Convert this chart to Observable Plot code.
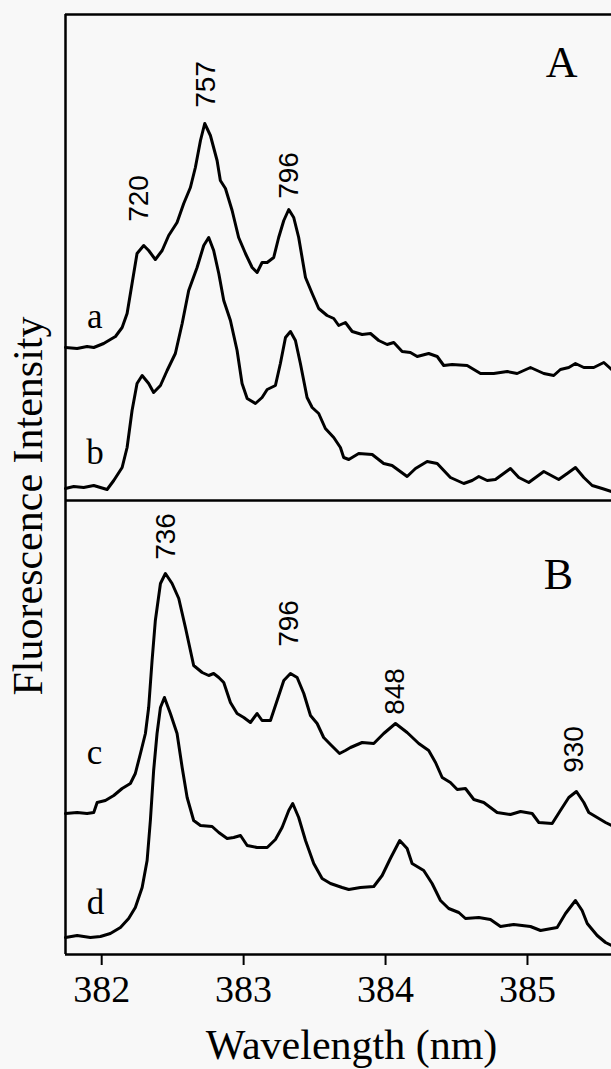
<!DOCTYPE html>
<html>
<head>
<meta charset="utf-8">
<script src="https://cdn.jsdelivr.net/npm/d3@7"></script>
<script src="https://cdn.jsdelivr.net/npm/@observablehq/plot@0.6"></script>
<style>
  html, body { margin: 0; padding: 0; background: #f8f8f8; }
  #chart { position: relative; width: 611px; height: 1069px; overflow: hidden; }
  #chart svg { position: absolute; left: 0; }
  #ylabel {
    position: absolute; left: 28px; top: 506px;
    transform: translate(-50%, -50%) rotate(-90deg);
    font-family: "Liberation Serif", "Times New Roman", serif;
    font-size: 42px; line-height: 1; white-space: nowrap; color: #000;
  }
</style>
</head>
<body>
<div id="chart"><div id="ylabel">Fluorescence Intensity</div></div>
<script>
// ---- data (wavelength in nm, intensity in arbitrary units) ----
const xDomain = [381.745, 385.592];
const xTicks = [382, 383, 384, 385];
const yMaxA = 486;
const yMaxB = 454;

const curveA = [[381.745,153],[381.827,152],[381.897,154],[381.944,153],[382.014,157],[382.061,161],[382.097,164],[382.144,173],[382.179,187],[382.214,217],[382.249,247],[382.296,255],[382.331,250],[382.378,241],[382.426,250],[382.472,265],[382.531,278],[382.578,297],[382.625,313],[382.660,333],[382.696,360],[382.726,377],[382.766,365],[382.813,340],[382.836,320],[382.872,312],[382.919,290],[382.965,263],[383.013,247],[383.060,233],[383.095,228],[383.130,238],[383.166,238],[383.212,243],[383.247,263],[383.283,280],[383.318,291],[383.353,283],[383.388,263],[383.436,223],[383.483,207],[383.529,192],[383.588,185],[383.635,182],[383.670,175],[383.717,178],[383.765,169],[383.835,166],[383.894,167],[383.952,160],[384.011,156],[384.058,158],[384.117,149],[384.175,148],[384.223,144],[384.304,147],[384.364,144],[384.410,135],[384.469,136],[384.575,135],[384.669,127],[384.762,127],[384.857,129],[384.927,127],[385.021,133],[385.115,127],[385.185,125],[385.232,131],[385.291,133],[385.338,137],[385.397,133],[385.467,133],[385.538,138],[385.592,131]];

const curveB = [[381.745,12],[381.803,14],[381.873,13],[381.944,15],[382.038,11],[382.085,20],[382.144,33],[382.179,53],[382.214,90],[382.249,117],[382.285,125],[382.331,117],[382.366,108],[382.414,115],[382.461,130],[382.519,147],[382.567,177],[382.613,210],[382.672,233],[382.719,255],[382.754,263],[382.789,250],[382.825,227],[382.860,200],[382.907,180],[382.954,150],[382.989,117],[383.025,102],[383.083,97],[383.130,103],[383.166,111],[383.224,115],[383.259,137],[383.295,163],[383.330,169],[383.365,160],[383.400,137],[383.447,103],[383.483,93],[383.529,87],[383.576,72],[383.635,63],[383.682,53],[383.705,43],[383.741,41],[383.811,47],[383.906,46],[383.987,37],[384.046,35],[384.152,24],[384.211,32],[384.293,39],[384.364,37],[384.457,23],[384.551,17],[384.610,20],[384.657,24],[384.716,20],[384.774,21],[384.880,32],[384.939,23],[385.009,18],[385.115,29],[385.220,21],[385.280,27],[385.338,33],[385.397,23],[385.456,15],[385.526,12],[385.592,9]];

const curveC = [[381.745,141],[381.827,142],[381.897,141],[381.944,142],[381.968,152],[382.026,154],[382.085,159],[382.144,166],[382.202,171],[382.237,181],[382.273,201],[382.308,221],[382.331,247],[382.355,294],[382.378,334],[382.414,371],[382.449,381],[382.496,371],[382.543,356],[382.590,327],[382.648,289],[382.708,282],[382.754,279],[382.789,281],[382.825,277],[382.860,272],[382.907,252],[382.954,241],[383.001,237],[383.048,232],[383.095,241],[383.130,234],[383.189,234],[383.236,254],[383.283,274],[383.330,281],[383.377,277],[383.424,261],[383.471,239],[383.518,231],[383.564,217],[383.612,210],[383.676,201],[383.717,204],[383.753,207],[383.835,212],[383.917,211],[383.987,221],[384.070,231],[384.152,222],[384.234,211],[384.304,204],[384.352,192],[384.399,177],[384.457,172],[384.505,165],[384.563,166],[384.622,155],[384.692,152],[384.786,142],[384.880,140],[384.951,143],[385.033,141],[385.080,132],[385.174,131],[385.232,144],[385.291,157],[385.345,163],[385.397,152],[385.432,142],[385.491,137],[385.550,132],[385.592,129]];

const curveD = [[381.745,17],[381.827,19],[381.920,17],[381.991,18],[382.061,21],[382.132,27],[382.190,36],[382.237,47],[382.285,67],[382.320,94],[382.343,134],[382.366,184],[382.390,221],[382.414,247],[382.442,257],[382.484,241],[382.531,221],[382.567,187],[382.602,157],[382.648,134],[382.696,129],[382.778,128],[382.825,122],[382.884,116],[382.930,117],[382.978,119],[383.025,109],[383.095,107],[383.166,107],[383.224,115],[383.271,127],[383.318,144],[383.346,151],[383.388,137],[383.436,114],[383.494,91],[383.553,76],[383.612,71],[383.694,67],[383.741,65],[383.823,67],[383.917,68],[383.976,79],[384.034,96],[384.100,114],[384.152,106],[384.187,91],[384.269,84],[384.328,71],[384.387,54],[384.445,46],[384.516,42],[384.563,36],[384.657,37],[384.739,35],[384.810,28],[384.903,30],[385.021,28],[385.092,24],[385.209,27],[385.268,41],[385.338,54],[385.385,44],[385.421,31],[385.491,19],[385.550,12],[385.592,9]];

// peak annotations (label, wavelength, intensity)
const peakLabelsA = ["720", "757", "796"];
const peakWaveA = [382.261, 382.735, 383.323];
const peakIntA = [302, 416, 325];
const peakLabelsB = ["736", "796", "848", "930"];
const peakWaveB = [382.452, 383.323, 384.068, 385.326];
const peakIntB = [418, 331, 263, 205];

// trace letters
const traceLabelsA = ["a", "b"];
const traceWaveA = [381.951, 381.953];
const traceIntA = [184, 48];
const traceLabelsB = ["c", "d"];
const traceWaveB = [381.949, 381.956];
const traceIntB = [202, 52];

// panel letters
const panelA = {label: "A", wave: 385.240, int: 438};
const panelB = {label: "B", wave: 385.218, int: 380};

// ---- drawing ----
const serif = '"Liberation Serif", "Times New Roman", serif';
const sans = '"Liberation Sans", Arial, sans-serif';
const zip = (labels, xs, ys) => labels.map((l, i) => ({label: l, x: xs[i], y: ys[i]}));
const baseStyle = {background: "transparent", color: "#000", fontFamily: serif, overflow: "visible"};
const lineOpts = {x: d => d[0], y: d => d[1], stroke: "#000", strokeWidth: 3, strokeLinejoin: "round", strokeLinecap: "round"};

const plotA = Plot.plot({
  width: 611, height: 500,
  marginLeft: 65, marginRight: 0, marginTop: 14, marginBottom: 0,
  style: baseStyle,
  x: {domain: xDomain, axis: null},
  y: {domain: [0, yMaxA], axis: null},
  marks: [
    Plot.ruleX([xDomain[0]], {stroke: "#000", strokeWidth: 2.5}),
    Plot.ruleY([yMaxA], {stroke: "#000", strokeWidth: 2.5}),
    Plot.line(curveA, lineOpts),
    Plot.line(curveB, lineOpts),
    Plot.text(zip(peakLabelsA, peakWaveA, peakIntA), {x: "x", y: "y", text: "label", rotate: -90, fontSize: 28, fontFamily: sans, fill: "#000"}),
    Plot.text(zip(traceLabelsA, traceWaveA, traceIntA), {x: "x", y: "y", text: "label", fontSize: 35, fontFamily: serif, fill: "#000"}),
    Plot.text([panelA], {x: "wave", y: "int", text: "label", fontSize: 44, fontFamily: serif, fill: "#000"})
  ]
});

const plotB = Plot.plot({
  width: 611, height: 579,
  marginLeft: 65, marginRight: 0, marginTop: 10, marginBottom: 115,
  style: baseStyle,
  x: {domain: xDomain},
  y: {domain: [0, yMaxB], axis: null},
  marks: [
    Plot.ruleX([xDomain[0]], {stroke: "#000", strokeWidth: 2.5}),
    Plot.ruleY([yMaxB], {stroke: "#000", strokeWidth: 2.5}),
    Plot.ruleY([0], {stroke: "#000", strokeWidth: 2.5}),
    Plot.axisX({ticks: xTicks, tickFormat: "d", tickSize: 11, tickPadding: 10, fontSize: 38, label: null, strokeWidth: 2}),
    Plot.line(curveC, lineOpts),
    Plot.line(curveD, lineOpts),
    Plot.text(zip(peakLabelsB, peakWaveB, peakIntB), {x: "x", y: "y", text: "label", rotate: -90, fontSize: 28, fontFamily: sans, fill: "#000"}),
    Plot.text(zip(traceLabelsB, traceWaveB, traceIntB), {x: "x", y: "y", text: "label", fontSize: 35, fontFamily: serif, fill: "#000"}),
    Plot.text([panelB], {x: "wave", y: "int", text: "label", fontSize: 44, fontFamily: serif, fill: "#000"}),
    Plot.text(["Wavelength (nm)"], {frameAnchor: "bottom", lineAnchor: "middle", dx: 13, dy: 91, fontSize: 42, fontFamily: serif, fill: "#000"})
  ]
});

// force the serif face (and plain figures) on the axis tick labels
const tickStrings = new Set(xTicks.map(String));
plotB.querySelectorAll("text").forEach(t => {
  if (tickStrings.has(t.textContent.trim())) {
    t.style.setProperty("font-family", serif, "important");
    t.style.setProperty("font-variant", "normal", "important");
    t.style.setProperty("font-variant-numeric", "normal", "important");
  }
});
plotB.querySelectorAll("g").forEach(g => {
  const lbl = g.getAttribute("aria-label") || "";
  if (/tick label/.test(lbl)) {
    g.setAttribute("font-family", serif);
    g.style.setProperty("font-family", serif, "important");
    g.style.setProperty("font-variant", "normal", "important");
  }
});

const chart = document.getElementById("chart");
plotA.style.top = "0px";
plotB.style.top = "490px";
chart.appendChild(plotA);
chart.appendChild(plotB);
</script>
</body>
</html>
